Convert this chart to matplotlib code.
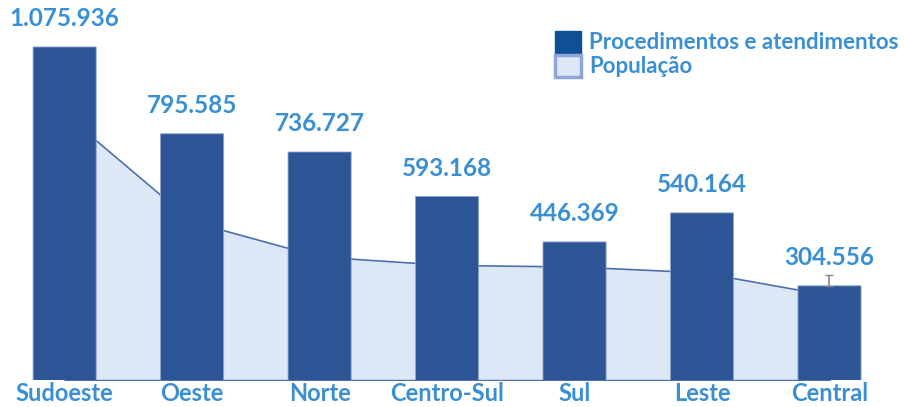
import matplotlib
matplotlib.use("Agg")
import matplotlib.pyplot as plt
from matplotlib.patches import Patch, FancyBboxPatch
import numpy as np

plt.rcParams['font.family'] = ['Lato', 'DejaVu Sans']

# data
regions = ['Sudoeste', 'Oeste', 'Norte', 'Centro-Sul', 'Sul', 'Leste', 'Central']
procedimentos = [1075936, 795585, 736727, 593168, 446369, 540164, 304556]
populacao = [860000, 512000, 399000, 372000, 367000, 348000, 274000]  # estimated from area shape
central_err = [0, 0, 0, 0, 0, 0, 35000]

bar_color = '#2D5595'
area_fill = '#DCE8F5'
area_line = '#4F6FAE'
text_color = '#3A8FD4'

fig = plt.figure(figsize=(9.05, 4.07), dpi=100)
ax = fig.add_axes([0.001, 0.066, 0.986, 0.913])

x = np.arange(len(regions))
ymax = 1200000
bar_w = 0.495

ax.fill_between(x, populacao, 0, facecolor=area_fill, edgecolor=area_line,
                linewidth=1.2, zorder=1)

# bars with slightly rounded tops (bottom pushed below the axis so it stays square)
px_w = fig.get_figwidth() * fig.dpi * 0.986 / 7.0
px_h = fig.get_figheight() * fig.dpi * 0.913 / ymax
aspect = 1.0 / (px_h * px_w)
below = 30000
for xi, v in zip(x, procedimentos):
    p = FancyBboxPatch((xi - bar_w / 2, -below), bar_w, v + below,
                       boxstyle="round,pad=0,rounding_size=0.05",
                       mutation_aspect=aspect, facecolor=bar_color,
                       edgecolor='#8FA6D0', linewidth=0.6, zorder=2)
    ax.add_patch(p)

# small error mark on the last bar
ax.errorbar(x[-1:], procedimentos[-1:], yerr=[[0], central_err[-1:]],
            fmt='none', ecolor='#888888', elinewidth=1.2, capsize=3, zorder=3)

for xi, v in zip(x, procedimentos):
    label = f"{v:,}".replace(",", ".")
    ax.annotate(label, (xi, v), xytext=(0, 12), textcoords='offset points',
                ha='center', va='bottom', fontsize=17.5, fontweight='bold',
                color=text_color)

ax.set_xlim(-0.5, 6.5)
ax.set_ylim(0, ymax)
ax.set_xticks(x)
ax.set_xticklabels(regions, fontsize=17, fontweight='bold', color=text_color)
ax.tick_params(axis='x', length=0, pad=1)
ax.set_yticks([])
for s in ax.spines.values():
    s.set_visible(False)

handles = [Patch(facecolor='#0F4F96', edgecolor='#0F4F96'),
           Patch(facecolor=area_fill, edgecolor='#8FA6D8', linewidth=2.5)]
leg = fig.legend(handles, ['Procedimentos e atendimentos', 'População'],
                 loc='upper left', bbox_to_anchor=(0.613, 0.925), frameon=False,
                 handlelength=1.2, handleheight=1.2, handletextpad=0.35,
                 labelspacing=0.05, borderaxespad=0, borderpad=0,
                 prop={'family': 'Lato', 'weight': 'bold', 'size': 16})
for t in leg.get_texts():
    t.set_color(text_color)

fig.savefig('out.png', dpi=100)
